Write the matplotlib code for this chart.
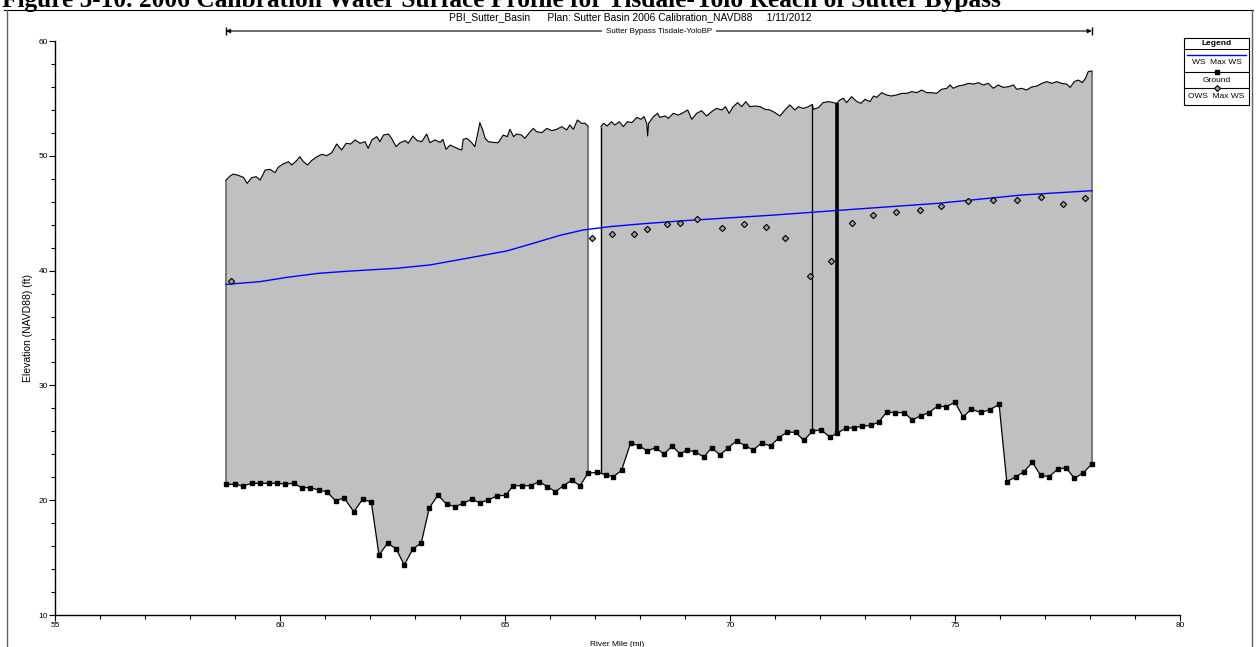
import matplotlib
matplotlib.use("Agg")
import matplotlib.pyplot as plt
import numpy as np
from matplotlib.lines import Line2D

plt.rcParams["font.family"] = ["Liberation Sans", "DejaVu Sans"]

# Ground profile (river mile, elevation ft)
ground_mile = [58.80, 59.00, 59.18, 59.37, 59.56, 59.76, 59.94, 60.12, 60.30, 60.48,
               60.67, 60.86, 61.04, 61.24, 61.42, 61.64, 61.84, 62.03, 62.20, 62.39,
               62.58, 62.76, 62.95, 63.14, 63.32, 63.51, 63.70, 63.89, 64.07, 64.26,
               64.44, 64.63, 64.82, 65.02, 65.18, 65.38, 65.57, 65.76, 65.94, 66.12,
               66.30, 66.48, 66.67, 66.84, 67.04, 67.24, 67.41, 67.59, 67.79, 67.98,
               68.16, 68.35, 68.53, 68.72, 68.89, 69.05, 69.22, 69.42, 69.59, 69.78,
               69.96, 70.15, 70.33, 70.52, 70.70, 70.90, 71.09, 71.27, 71.46, 71.64,
               71.83, 72.02, 72.22, 72.37, 72.57, 72.76, 72.94, 73.13, 73.30, 73.48,
               73.67, 73.87, 74.05, 74.24, 74.42, 74.62, 74.80, 75.00, 75.18, 75.36,
               75.57, 75.77, 75.98, 76.15, 76.35, 76.53, 76.72, 76.90, 77.09, 77.28,
               77.47, 77.65, 77.84, 78.04]
ground_elev = [21.38, 21.38, 21.24, 21.47, 21.47, 21.47, 21.47, 21.41, 21.47, 21.09,
               21.09, 20.89, 20.74, 19.93, 20.22, 19.00, 20.10, 19.82, 15.23, 16.24,
               15.78, 14.36, 15.72, 16.30, 19.35, 20.43, 19.67, 19.43, 19.73, 20.08,
               19.78, 20.02, 20.37, 20.43, 21.26, 21.26, 21.26, 21.62, 21.18, 20.74,
               21.26, 21.73, 21.26, 22.34, 22.43, 22.22, 22.05, 22.60, 24.96, 24.75,
               24.29, 24.58, 24.02, 24.72, 24.02, 24.37, 24.22, 23.76, 24.57, 23.94,
               24.57, 25.18, 24.75, 24.37, 24.98, 24.72, 25.45, 25.94, 25.91, 25.21,
               26.00, 26.14, 25.50, 25.82, 26.26, 26.32, 26.44, 26.52, 26.79, 27.66,
               27.63, 27.63, 26.99, 27.36, 27.63, 28.20, 28.14, 28.53, 27.25, 27.92,
               27.66, 27.86, 28.35, 21.62, 22.02, 22.48, 23.30, 22.17, 22.05, 22.69,
               22.83, 21.91, 22.34, 23.15]

# Upper (levee / lateral structure) profile, two reaches
top1_mile = [58.80, 58.89, 58.96, 59.07, 59.19, 59.27, 59.37, 59.47, 59.56, 59.67,
             59.78, 59.89, 59.96, 60.07, 60.19, 60.26, 60.37, 60.44, 60.52, 60.61,
             60.70, 60.82, 60.93, 61.04, 61.15, 61.26, 61.37, 61.47, 61.57, 61.67,
             61.78, 61.89, 61.96, 62.04, 62.15, 62.22, 62.30, 62.41, 62.48, 62.58,
             62.67, 62.78, 62.85, 62.95, 63.05, 63.15, 63.26, 63.33, 63.44, 63.56,
             63.62, 63.69, 63.78, 63.89, 63.99, 64.04, 64.07, 64.15, 64.24, 64.33,
             64.41, 64.44, 64.50, 64.56, 64.63, 64.74, 64.85, 64.96, 65.05, 65.11,
             65.19, 65.26, 65.37, 65.44, 65.56, 65.63, 65.70, 65.82, 65.93, 66.04,
             66.15, 66.26, 66.37, 66.44, 66.52, 66.61, 66.70, 66.78, 66.84]
top1_elev = [47.89, 48.24, 48.41, 48.30, 48.12, 47.60, 48.10, 48.18, 47.89, 48.76,
             48.82, 48.53, 49.00, 49.29, 49.49, 49.20, 49.58, 49.92, 49.49, 49.20,
             49.58, 49.92, 50.13, 50.01, 50.27, 51.03, 50.51, 51.09, 51.03, 51.38,
             51.09, 51.23, 50.65, 51.38, 51.67, 51.23, 51.81, 51.90, 51.52, 50.80,
             51.14, 51.32, 51.09, 51.72, 51.32, 51.23, 51.90, 51.14, 51.38, 51.17,
             51.43, 50.56, 50.94, 50.74, 50.56, 50.51, 51.43, 51.52, 51.23, 50.80,
             52.25, 52.89, 52.31, 51.52, 51.23, 51.17, 51.14, 51.81, 51.67, 52.31,
             51.67, 51.90, 51.81, 51.52, 52.10, 52.39, 52.10, 52.02, 52.39, 52.19,
             52.31, 52.54, 52.25, 52.68, 52.31, 53.12, 52.83, 52.83, 52.60]
top2_mile = [67.13, 67.19, 67.27, 67.37, 67.44, 67.54, 67.63, 67.72, 67.82, 67.93,
             68.02, 68.09, 68.15, 68.17, 68.19, 68.30, 68.39, 68.44, 68.56, 68.63,
             68.74, 68.85, 68.96, 69.06, 69.15, 69.26, 69.37, 69.48, 69.59, 69.70,
             69.82, 69.90, 69.98, 70.07, 70.17, 70.26, 70.35, 70.44, 70.56, 70.67,
             70.78, 70.89, 71.00, 71.11, 71.22, 71.33, 71.44, 71.52, 71.63, 71.74,
             71.83, 71.85, 71.96, 72.07, 72.19, 72.30, 72.37, 72.44, 72.52, 72.59,
             72.70, 72.82, 72.91, 73.00, 73.11, 73.19, 73.26, 73.37, 73.48, 73.59,
             73.70, 73.82, 73.93, 74.04, 74.15, 74.26, 74.37, 74.48, 74.59, 74.70,
             74.82, 74.89, 74.96, 75.07, 75.19, 75.30, 75.41, 75.52, 75.63, 75.74,
             75.85, 75.96, 76.07, 76.19, 76.30, 76.37, 76.48, 76.59, 76.70, 76.82,
             76.93, 77.04, 77.15, 77.26, 77.37, 77.48, 77.56, 77.65, 77.74, 77.83,
             77.90, 77.96, 78.04]
top2_elev = [52.54, 52.83, 52.60, 52.97, 52.68, 52.97, 52.54, 52.97, 52.89, 53.35,
             53.18, 53.41, 52.83, 51.73, 52.83, 53.41, 53.70, 53.35, 53.47, 53.26,
             53.70, 53.55, 53.76, 53.99, 53.18, 53.70, 53.93, 53.47, 53.84, 54.13,
             53.99, 54.28, 53.70, 54.28, 54.63, 54.28, 54.72, 54.28, 54.34, 54.28,
             54.05, 53.99, 53.76, 53.47, 53.99, 54.43, 53.99, 54.28, 54.13, 54.28,
             54.48, 54.05, 54.19, 54.63, 54.72, 54.63, 54.57, 54.86, 55.01, 54.63,
             55.15, 54.72, 54.57, 54.92, 54.72, 55.21, 55.09, 55.50, 55.30, 55.21,
             55.30, 55.44, 55.44, 55.59, 55.50, 55.73, 55.50, 55.50, 55.44, 55.79,
             55.88, 56.17, 55.88, 56.08, 56.17, 56.31, 56.25, 56.37, 56.17, 56.31,
             55.88, 56.17, 55.96, 56.02, 56.17, 55.79, 55.88, 55.73, 55.99, 56.08,
             56.31, 56.46, 56.31, 56.46, 56.31, 56.25, 55.96, 56.46, 56.60, 56.37,
             56.75, 57.33, 57.39]

# Computed max water surface
ws_mile = [58.80, 59.56, 60.15, 60.85, 61.56, 62.59, 63.33, 64.15, 65.04, 65.63,
           66.22, 66.74, 67.33, 68.00, 68.99, 70.87, 72.74, 74.62, 76.50, 78.04]
ws_elev = [38.80, 39.04, 39.41, 39.76, 39.96, 40.20, 40.49, 41.07, 41.71, 42.38,
           43.07, 43.54, 43.83, 44.06, 44.35, 44.81, 45.34, 45.86, 46.59, 46.96]

# Observed max water surface
ows_mile = [58.90, 66.93, 67.37, 67.87, 68.15, 68.60, 68.89, 69.27, 69.82, 70.31,
            70.81, 71.23, 71.78, 72.25, 72.71, 73.17, 73.69, 74.22, 74.68, 75.28,
            75.84, 76.38, 76.92, 77.40, 77.88]
ows_elev = [39.09, 42.81, 43.22, 43.22, 43.62, 44.06, 44.18, 44.47, 43.68, 44.06,
            43.83, 42.87, 39.56, 40.86, 44.18, 44.84, 45.13, 45.28, 45.60, 46.03,
            46.18, 46.18, 46.38, 45.83, 46.30]

# structures drawn as vertical bars (mile, linewidth)
struct_mile = [71.83, 72.37]
struct_width = [0.9, 2.6]

W, H = 1257, 647
fig = plt.figure(figsize=(W / 100, H / 100), dpi=100)
ax = fig.add_axes([55 / W, 1 - 615 / H, 1125 / W, 574 / H])

gm = np.array(ground_mile)
ge = np.array(ground_elev)

def fill_section(tm, te):
    tm = np.array(tm); te = np.array(te)
    s, e = tm[0], tm[-1]
    inside = (gm > s) & (gm < e)
    xs = np.concatenate([[s], tm, [e], gm[inside][::-1]])
    ys = np.concatenate([[np.interp(s, gm, ge)], te, [np.interp(e, gm, ge)], ge[inside][::-1]])
    ax.fill(xs, ys, color="#c0c0c0", lw=0, zorder=1)
    ax.plot(tm, te, color="black", lw=0.8, zorder=3)
    return s, e

s1, e1 = fill_section(top1_mile, top1_elev)
s2, e2 = fill_section(top2_mile, top2_elev)

# section edges
ax.vlines([s1, e1, e2], [np.interp(v, gm, ge) for v in [s1, e1, e2]],
          [top1_elev[0], top1_elev[-1], top2_elev[-1]], color="#707070", lw=1.3, zorder=2)
ax.vlines([s2], [np.interp(s2, gm, ge)], [top2_elev[0]], color="black", lw=1.0, zorder=2)
for m, w in zip(struct_mile, struct_width):
    ax.vlines(m, np.interp(m, gm, ge), np.interp(m, top2_mile, top2_elev),
              color="black", lw=w, zorder=4)

ax.plot(ws_mile, ws_elev, color="#0000ff", lw=1.0, zorder=5)
ax.plot(gm, ge, color="black", lw=0.9, marker="s", ms=3.2, zorder=6)
ax.plot(ows_mile, ows_elev, ls="none", marker="D", ms=3.2, mfc="#a0a0a0",
        mec="black", mew=0.8, zorder=7)

ax.set_xlim(55, 80)
ax.set_ylim(10, 60)
ax.set_xticks(np.arange(55, 81, 5))
ax.set_xticks(np.arange(55, 81, 1), minor=True)
ax.set_yticks(np.arange(10, 61, 10))
ax.set_yticks(np.arange(10, 61, 2), minor=True)
ax.tick_params(labelsize=6, length=4, width=0.8, pad=1)
ax.tick_params(which="minor", length=3, width=0.8)
for sp in ["top", "right"]:
    ax.spines[sp].set_visible(False)
for sp in ["left", "bottom"]:
    ax.spines[sp].set_linewidth(1.0)
ax.set_xlabel("River Mile (mi)", fontsize=6, labelpad=9)
ax.set_ylabel("Elevation (NAVD88) (ft)", fontsize=7.5, labelpad=4)

# reach span arrow above the plot
ytr = ax.get_xaxis_transform()
yarr = (615 - 31) / 574
ax.annotate("", xy=(e2, yarr), xytext=(s1, yarr), xycoords=ytr, textcoords=ytr,
            arrowprops=dict(arrowstyle="<|-|>", color="black", lw=0.8,
                            mutation_scale=6, shrinkA=0, shrinkB=0), annotation_clip=False)
ax.plot([s1, e2], [yarr, yarr], transform=ytr, ls="none", marker="|", ms=6,
        color="black", clip_on=False)
ax.text((s1 + e2) / 2, yarr, "Sutter Bypass Tisdale-YoloBP", transform=ytr,
        ha="center", va="center", fontsize=5.8,
        bbox=dict(facecolor="white", edgecolor="none", pad=3), clip_on=False)

fig.text(630 / W, 1 - 17.5 / H,
         "PBI_Sutter_Basin      Plan: Sutter Basin 2006 Calibration_NAVD88     1/11/2012",
         ha="center", va="center", fontsize=7.4)

# document caption, cut off at the top edge as on the page
fig.text(2 / W, 1 - 7 / H,
         "Figure 5-10. 2006 Calibration Water Surface Profile for Tisdale-Yolo Reach of Sutter Bypass",
         ha="left", va="baseline", fontsize=18.3, fontweight="bold",
         family=["Liberation Serif", "DejaVu Serif"])

# page frame
fig.add_artist(Line2D([4 / W, 1253 / W], [1 - 10 / H, 1 - 10 / H], transform=fig.transFigure,
                      color="black", lw=0.8))
fig.add_artist(Line2D([7 / W, 7 / W], [0, 1 - 10 / H], transform=fig.transFigure,
                      color="#606060", lw=1.0))
fig.add_artist(Line2D([1252 / W, 1252 / W], [0, 1 - 10 / H], transform=fig.transFigure,
                      color="#606060", lw=1.0))

# legend box
lax = fig.add_axes([1184 / W, 1 - 105 / H, 65 / W, 67 / H])
lax.set_xlim(1184, 1249)
lax.set_ylim(105, 38)
lax.set_xticks([]); lax.set_yticks([])
for sp in lax.spines.values():
    sp.set_linewidth(0.8)
cx = 1216.5
lax.text(cx, 43.5, "Legend", ha="center", va="center", fontsize=6, fontweight="bold")
lax.plot([1184, 1249], [48.5, 48.5], color="black", lw=0.7)
lax.plot([1187, 1246], [54.5, 54.5], color="#0000ff", lw=1.0)
lax.text(cx, 63, "WS  Max WS", ha="center", va="center", fontsize=6)
lax.plot([1184, 1249], [71.5, 71.5], color="black", lw=0.8)
lax.plot([cx], [71.5], marker="s", ms=3, color="black")
lax.text(cx, 80, "Ground", ha="center", va="center", fontsize=6)
lax.plot([1184, 1249], [88, 88], color="black", lw=0.8)
lax.plot([cx], [88], marker="D", ms=3, mfc="#a0a0a0", mec="black", mew=0.8)
lax.text(cx, 97, "OWS  Max WS", ha="center", va="center", fontsize=6)

fig.savefig("out.png", dpi=100)
